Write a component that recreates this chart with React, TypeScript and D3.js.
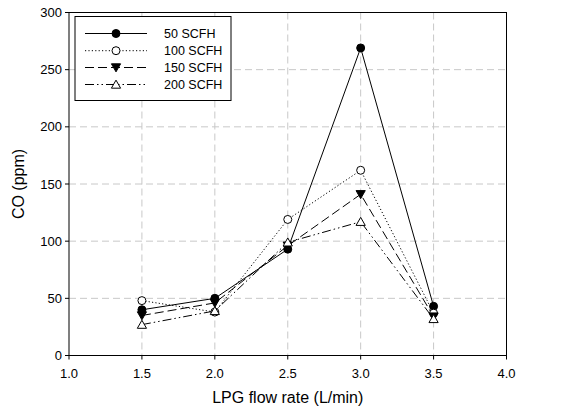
import React from "react";
import * as d3 from "d3";

const flowRates = [1.5, 2.0, 2.5, 3.0, 3.5];
const s50 = [40, 50, 93, 269, 43];
const s100 = [48, 38, 119, 162, 37];
const s150 = [35, 46, 96, 141, 34];
const s200 = [27, 39, 99, 117, 32];
const seriesNames = ["50 SCFH", "100 SCFH", "150 SCFH", "200 SCFH"];
const xTicks = [1.0, 1.5, 2.0, 2.5, 3.0, 3.5, 4.0];
const yTicks = [0, 50, 100, 150, 200, 250, 300];

const W = 568, H = 416;
const left = 69, right = 506.5, top = 12.5, bottom = 355.5;
const FONT = "Liberation Sans, Arial, sans-serif";

const styles = [
  { dash: "none", marker: "circle", fill: "#000" },
  { dash: "1.2,2.2", marker: "circle", fill: "#fff" },
  { dash: "9,4", marker: "down", fill: "#000" },
  { dash: "9,3,1.5,3,1.5,3", marker: "up", fill: "#fff" },
];

function Marker({ type, fill, x, y }: { type: string; fill: string; x: number; y: number }) {
  if (type === "circle") return <circle cx={x} cy={y} r={4} fill={fill} stroke="#000" strokeWidth={1} />;
  const s = 4.6;
  const pts = type === "down"
    ? `${x - s},${y - s * 0.8} ${x + s},${y - s * 0.8} ${x},${y + s * 0.95}`
    : `${x - s},${y + s * 0.8} ${x + s},${y + s * 0.8} ${x},${y - s * 0.95}`;
  return <polygon points={pts} fill={fill} stroke="#000" strokeWidth={1} />;
}

export default function App() {
  const x = d3.scaleLinear().domain([1, 4]).range([left, right]);
  const y = d3.scaleLinear().domain([0, 300]).range([bottom, top]);
  const all = [s50, s100, s150, s200];
  const line = d3.line<number>().x((_, i) => x(flowRates[i])).y((d) => y(d));

  const legX0 = 85, legX1 = 147, legMid = 116, legTextX = 164;
  const legRows = [33.5, 50.7, 67.5, 84.5];

  return (
    <svg width={W} height={H} style={{ position: "absolute", left: 0, top: 0, background: "#fff" }} fontFamily={FONT}>
      <rect x={0} y={0} width={W} height={H} fill="#fff" />
      {/* grid */}
      {xTicks.slice(1, -1).map((t) => (
        <line key={"gx" + t} x1={x(t)} x2={x(t)} y1={top} y2={bottom} stroke="#c8c8c8" strokeWidth={1} strokeDasharray="7,4" />
      ))}
      {yTicks.slice(1, -1).map((t) => (
        <line key={"gy" + t} x1={left} x2={right} y1={y(t)} y2={y(t)} stroke="#c8c8c8" strokeWidth={1} strokeDasharray="7,4" />
      ))}
      {/* frame */}
      <rect x={left} y={top} width={right - left} height={bottom - top} fill="none" stroke="#000" strokeWidth={1} />
      {/* ticks */}
      {xTicks.map((t) => (
        <g key={"xt" + t}>
          <line x1={x(t)} x2={x(t)} y1={bottom} y2={bottom + 4} stroke="#000" />
          <text x={x(t)} y={bottom + 22} textAnchor="middle" fontSize={13} fill="#000">{t.toFixed(1)}</text>
        </g>
      ))}
      {yTicks.map((t) => (
        <g key={"yt" + t}>
          <line x1={left - 4} x2={left} y1={y(t)} y2={y(t)} stroke="#000" />
          <text x={left - 7} y={y(t) + 4.5} textAnchor="end" fontSize={13} fill="#000">{t}</text>
        </g>
      ))}
      {/* series */}
      {all.map((s, i) => (
        <path key={"l" + i} d={line(s) || ""} fill="none" stroke="#000" strokeWidth={1} strokeDasharray={styles[i].dash} />
      ))}
      {all.map((s, i) =>
        s.map((v, j) => <Marker key={`m${i}-${j}`} type={styles[i].marker} fill={styles[i].fill} x={x(flowRates[j])} y={y(v)} />)
      )}
      {/* legend */}
      <rect x={75} y={16.5} width={156} height={84} fill="#fff" stroke="#000" strokeWidth={1} />
      {seriesNames.map((n, i) => (
        <g key={"lg" + i}>
          <line x1={legX0} x2={legX1} y1={legRows[i]} y2={legRows[i]} stroke="#000" strokeDasharray={styles[i].dash} />
          <Marker type={styles[i].marker} fill={styles[i].fill} x={legMid} y={legRows[i]} />
          <text x={legTextX} y={legRows[i] + 4.5} fontSize={12.5} fill="#000">{n}</text>
        </g>
      ))}
      {/* axis titles */}
      <text x={(left + right) / 2} y={403} textAnchor="middle" fontSize={16} fill="#000">LPG flow rate (L/min)</text>
      <text transform={`translate(24,${(top + bottom) / 2}) rotate(-90)`} textAnchor="middle" fontSize={16} fill="#000">CO (ppm)</text>
    </svg>
  );
}
